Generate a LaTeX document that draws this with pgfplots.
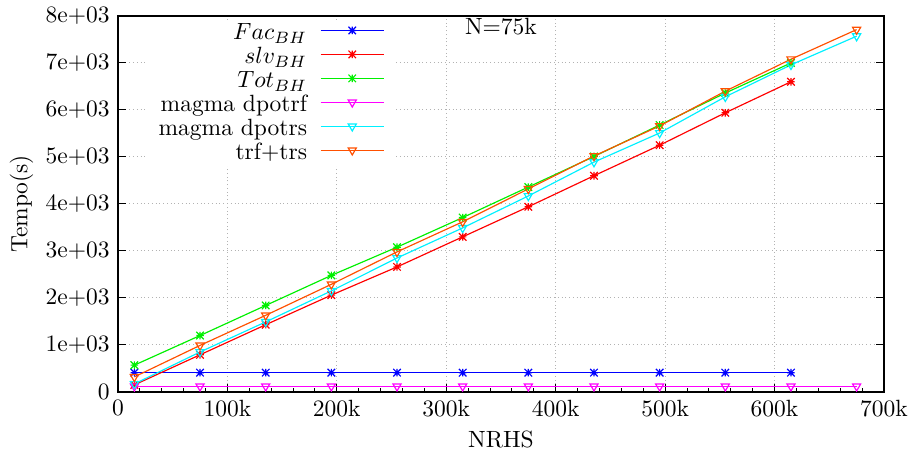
\documentclass[border=0pt]{standalone}
\usepackage{pgfplots}
\pgfplotsset{compat=1.18}
\definecolor{gpblue}{RGB}{0,0,255}
\definecolor{gpred}{RGB}{255,0,0}
\definecolor{gpgreen}{RGB}{0,240,0}
\definecolor{gpmag}{RGB}{255,0,255}
\definecolor{gpcyan}{RGB}{0,240,255}
\definecolor{gporange}{RGB}{255,80,0}
\pgfdeclareplotmark{gpstar}{%
  \pgfpathmoveto{\pgfqpoint{-\pgfplotmarksize}{0pt}}\pgfpathlineto{\pgfqpoint{\pgfplotmarksize}{0pt}}%
  \pgfpathmoveto{\pgfqpoint{0pt}{-\pgfplotmarksize}}\pgfpathlineto{\pgfqpoint{0pt}{\pgfplotmarksize}}%
  \pgfpathmoveto{\pgfqpoint{-\pgfplotmarksize}{-\pgfplotmarksize}}\pgfpathlineto{\pgfqpoint{\pgfplotmarksize}{\pgfplotmarksize}}%
  \pgfpathmoveto{\pgfqpoint{-\pgfplotmarksize}{\pgfplotmarksize}}\pgfpathlineto{\pgfqpoint{\pgfplotmarksize}{-\pgfplotmarksize}}%
  \pgfusepathqstroke}
\begin{document}
\begin{tikzpicture}
\begin{axis}[
  name=ax,
  scale only axis,
  width=326pt, height=160pt,
  xmin=0, xmax=700, ymin=0, ymax=8000,
  xtick={0,100,...,700},
  xticklabels={0,100k,200k,300k,400k,500k,600k,700k},
  ytick={0,1000,...,8000},
  yticklabels={0,1e+03,2e+03,3e+03,4e+03,5e+03,6e+03,7e+03,8e+03},
  minor x tick num=4,
  xtick pos=bottom, ytick pos=both,
  tick align=inside,
  major tick length=3.4pt, minor tick length=1.7pt,
  tick style={black, line width=0.4pt},
  axis line style={line width=0.6pt},
  grid=major,
  grid style={gray!60, line width=0.4pt, dash pattern=on 0.4pt off 1.2pt},
  xlabel={NRHS}, ylabel={Tempo(s)},
  xlabel style={at={(axis description cs:0.5,-0.1275)}, anchor=center},
  ylabel style={at={(axis description cs:-0.1258,0.5)}, anchor=center},
  legend plot pos=right,
  legend cell align=right,
  legend image code/.code={\draw[mark repeat=2,mark phase=2,yshift=1.7pt,#1] plot coordinates {(0pt,0pt) (13.5pt,0pt) (27pt,0pt)};},
  legend style={at={(axis description cs:0.364,0.984)}, anchor=north east,
    draw=none, fill=white, inner xsep=5pt, inner ysep=0pt, row sep=0pt,
    column sep=5pt,
    nodes={inner sep=0.5pt, text height=6.8pt, text depth=2.4pt}},
  every axis plot/.append style={line width=0.5pt},
]
\addplot[color=gpblue, mark=gpstar, mark size=1.6pt] coordinates {
 (15,410) (75,410) (135,410) (195,410) (255,410) (315,410) (375,410) (435,410) (495,410) (555,410) (615,410)};
\addlegendentry{$Fac_{BH}$}
\addplot[color=gpred, mark=gpstar, mark size=1.6pt] coordinates {
 (15,150) (75,790) (135,1430) (195,2060) (255,2660) (315,3300) (375,3940) (435,4600) (495,5250) (555,5940) (615,6600)};
\addlegendentry{$slv_{BH}$}
\addplot[color=gpgreen, mark=gpstar, mark size=1.6pt] coordinates {
 (15,570) (75,1200) (135,1840) (195,2480) (255,3080) (315,3710) (375,4360) (435,5010) (495,5680) (555,6360) (615,7000)};
\addlegendentry{$Tot_{BH}$}
\addplot[color=gpmag, mark=triangle, mark size=2pt, mark options={rotate=180}] coordinates {
 (15,120) (75,120) (135,120) (195,120) (255,120) (315,120) (375,120) (435,120) (495,120) (555,120) (615,120) (675,120)};
\addlegendentry{magma dpotrf}
\addplot[color=gpcyan, mark=triangle, mark size=2pt, mark options={rotate=180}] coordinates {
 (15,170) (75,850) (135,1490) (195,2150) (255,2850) (315,3490) (375,4170) (435,4890) (495,5510) (555,6280) (615,6960) (675,7570)};
\addlegendentry{magma dpotrs}
\addplot[color=gporange, mark=triangle, mark size=2pt, mark options={rotate=180}] coordinates {
 (15,320) (75,990) (135,1630) (195,2290) (255,2980) (315,3620) (375,4320) (435,5020) (495,5660) (555,6400) (615,7080) (675,7710)};
\addlegendentry{trf+trs}
\node[anchor=center] at (axis description cs:0.5,0.971) {N=75k};
\end{axis}
\pgfresetboundingbox
\path ([xshift=-50.2pt,yshift=-27.7pt]ax.south west) rectangle ([xshift=11.5pt,yshift=6.8pt]ax.north east);
\end{tikzpicture}
\end{document}
